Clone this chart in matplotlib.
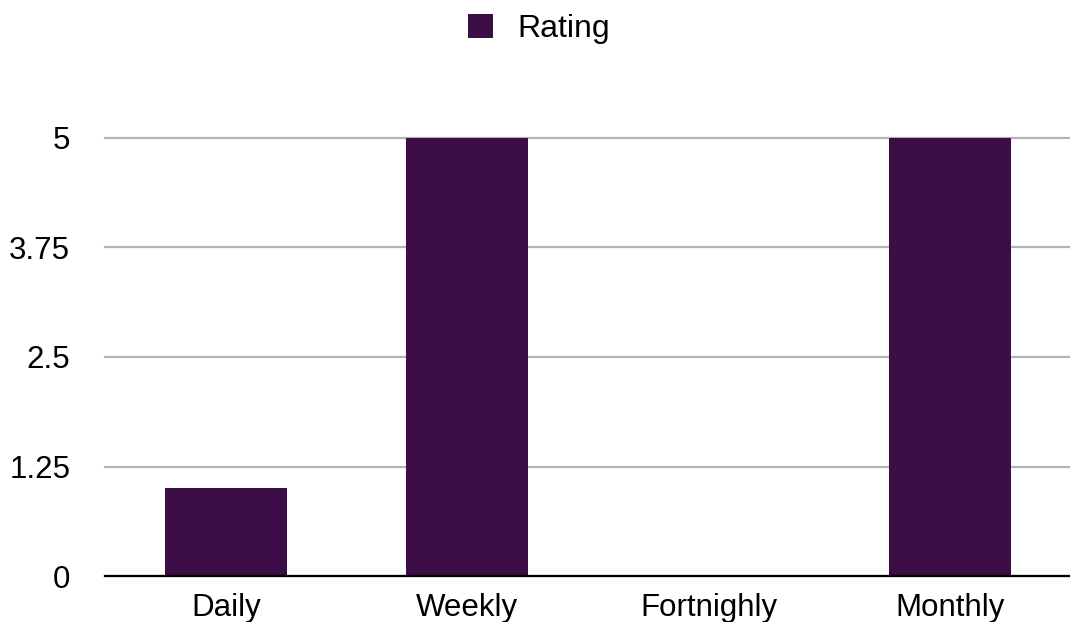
import matplotlib
matplotlib.use("Agg")
import matplotlib.pyplot as plt
from matplotlib.patches import Patch

plt.rcParams['font.family'] = ['Liberation Sans', 'DejaVu Sans']

categories = ["Daily", "Weekly", "Fortnighly", "Monthly"]
ratings = [1, 5, 0, 5]
yticks = [0, 1.25, 2.5, 3.75, 5]
ytick_labels = ["0", "1.25", "2.5", "3.75", "5"]
series_name = "Rating"
bar_color = "#3C0D46"

fig = plt.figure(figsize=(10.7, 6.22), dpi=100)
ax = fig.add_axes([105 / 1070, 46 / 622, 966 / 1070, 438 / 622])

x = list(range(len(categories)))
ax.bar(x, ratings, width=0.505, color=bar_color, zorder=3)

ax.set_xlim(-0.5, len(categories) - 0.5)
ax.set_ylim(0, 5)
ax.set_yticks(yticks)
ax.set_yticklabels(ytick_labels)
ax.set_xticks(x)
ax.set_xticklabels(categories)

ax.yaxis.grid(True, color="#B3B3B3", linewidth=1.6, zorder=1)
for gl in ax.get_ygridlines():
    gl.set_clip_on(False)
ax.tick_params(axis="both", length=0, labelsize=22.5, colors="black")
ax.tick_params(axis="y", pad=25)
ax.tick_params(axis="x", pad=12)

for side in ("top", "right", "left"):
    ax.spines[side].set_visible(False)
ax.spines["bottom"].set_linewidth(1.6)
ax.spines["bottom"].set_color("black")
ax.spines["bottom"].set_zorder(4)

handle = Patch(facecolor=bar_color, edgecolor="none")
fig.legend([handle], [series_name], loc="center", bbox_to_anchor=(539 / 1070, 1 - 29 / 622),
           frameon=False, fontsize=23, handlelength=0.78, handleheight=0.78,
           handletextpad=0.75)

fig.savefig("out.png", dpi=100)
